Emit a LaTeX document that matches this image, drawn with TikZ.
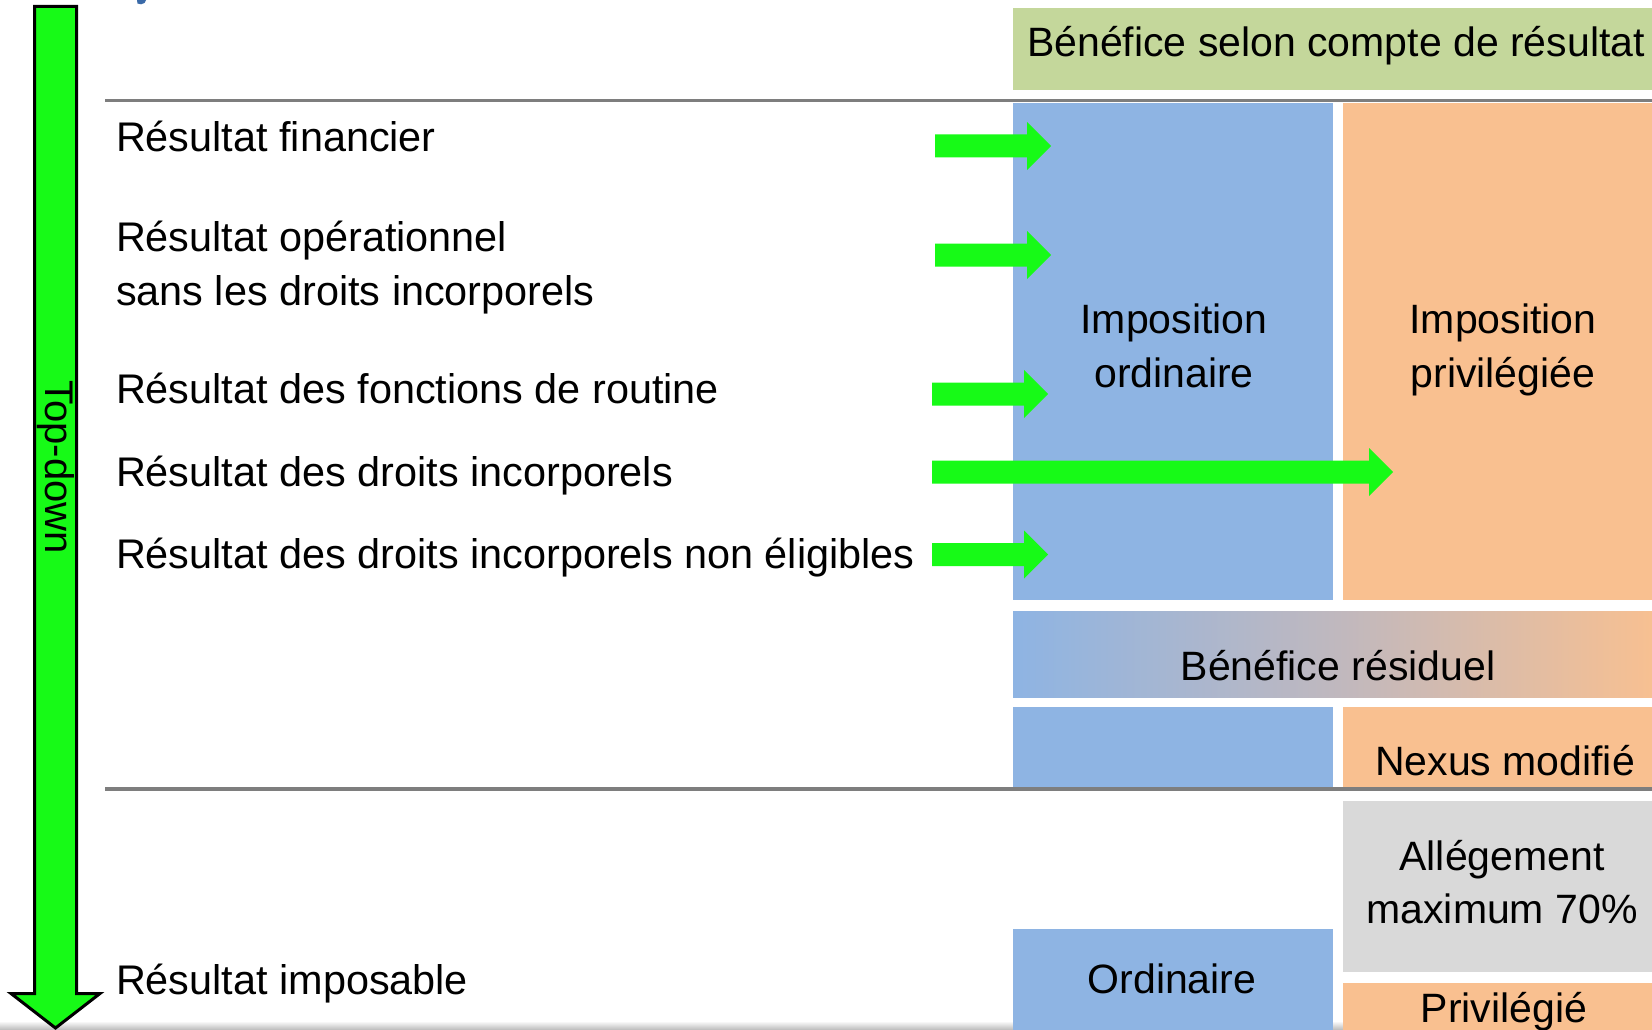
\documentclass[tikz,border=0pt]{standalone}
\usepackage{fontspec}
\setmainfont{Liberation Sans}
\usetikzlibrary{calc}
\definecolor{bleu}{HTML}{8EB4E3}
\definecolor{orangeclair}{HTML}{F9C090}
\definecolor{vertclair}{HTML}{C4D79B}
\definecolor{grisclair}{HTML}{D9D9D9}
\definecolor{vertvif}{HTML}{17FA17}
\definecolor{ligne}{HTML}{7E7E7E}
\definecolor{titre}{HTML}{3A6AA8}
\definecolor{milieu}{RGB}{192,184,190}
\tikzset{
  blk/.style={inner sep=0pt, outer sep=0pt, anchor=north west, draw=none},
  txt/.style={font=\fontsize{41}{50}\selectfont, inner sep=0pt, outer sep=0pt, anchor=base},
  ltxt/.style={txt, font=\fontsize{41.4}{50}\selectfont, anchor=base west},
  flechestyle/.style={fill=vertvif},
  sepline/.style={draw=ligne, line width=3.5pt},
  grandefleche/.style={draw=black, line width=3pt, fill=vertvif, line join=miter},
}
\newcommand\drawflecheH[2]{%
  \fill[flechestyle] let \p1=(#1), \p2=(#2) in
    (\x1,\y1+11.5pt) -- (\x2-24pt,\y1+11.5pt) -- (\x2-24pt,\y1+24pt) -- (\x2,\y1)
    -- (\x2-24pt,\y1-24pt) -- (\x2-24pt,\y1-11.5pt) -- (\x1,\y1-11.5pt) -- cycle;}
\begin{document}
\begin{tikzpicture}[x=1pt,y=-1pt]
\useasboundingbox (0,0) rectangle (1652,1030);
\fill[white] (0,0) rectangle (1652,1030);
% faint bottom edge shadow
\shade[top color=white, bottom color=gray!55] (0,1021) rectangle (1652,1030);
% cut-off title fragment
\fill[titre] (137,0) -- (146,0) -- (144.5,3) -- (141,4.3) -- (137.5,3.5) -- cycle;

% boxes
\node[blk, fill=vertclair, minimum width=650pt, minimum height=82pt] (gtop) at (1013,8) {};
\node[blk, fill=bleu, minimum width=320pt, minimum height=497pt] (colbleu) at (1013,103) {};
\node[blk, fill=orangeclair, minimum width=330pt, minimum height=497pt] (colorange) at (1343,103) {};
\node[blk, left color=bleu, right color=orangeclair, middle color=milieu, minimum width=650pt, minimum height=86pt] (residuel) at (1013,611) {};
\node[blk, fill=bleu, minimum width=320pt, minimum height=81pt] (bleubas) at (1013,707) {};
\node[blk, fill=orangeclair, minimum width=330pt, minimum height=81pt] (nexus) at (1343,707) {};
\node[blk, fill=grisclair, minimum width=330pt, minimum height=171pt] (allegement) at (1343,801) {};
\node[blk, fill=bleu, minimum width=320pt, minimum height=110pt] (ordinaire) at (1013,929) {};
\node[blk, fill=orangeclair, minimum width=330pt, minimum height=60pt] (privilegie) at (1343,983) {};

% separators
\coordinate (s1a) at (105,100.5);
\coordinate (s1b) at (1652,100.5);
\coordinate (s2a) at (105,789);
\coordinate (s2b) at (1652,789);
\draw[sepline] (s1a) -- (s1b);
\draw[sepline] (s2a) -- (s2b);

% big top-down arrow
\draw[grandefleche] (34.5,6.5) -- (76.5,6.5) -- (76.5,993.5) -- (100,993.5) -- (55.5,1028)
  -- (11,993.5) -- (34.5,993.5) -- cycle;
\node[txt, anchor=center, rotate=-90, font=\fontsize{40}{46}\selectfont] (topdown) at (56,467) {Top-down};

% left labels
\node[ltxt] (rfin) at (116,152) {Résultat financier};
\node[ltxt] (rop1) at (116,251) {Résultat opérationnel};
\node[ltxt] (rop2) at (116,305) {sans les droits incorporels};
\node[ltxt] (rrout) at (116,403) {Résultat des fonctions de routine};
\node[ltxt] (rdroit) at (116,486) {Résultat des droits incorporels};
\node[ltxt] (rnon) at (116,568) {Résultat des droits incorporels non éligibles};
\node[ltxt] (rimp) at (116,994) {Résultat imposable};

% box texts
\node[txt] (tgtop) at (1336,57) {Bénéfice selon compte de résultat};
\node[txt] (tio1) at (1174,333) {Imposition};
\node[txt] (tio2) at (1174,387) {ordinaire};
\node[txt] (tip1) at (1503,333) {Imposition};
\node[txt] (tip2) at (1503,387) {privilégiée};
\node[txt] (tres) at (1338,680) {Bénéfice résiduel};
\node[txt] (tnex) at (1505,775) {Nexus modifié};
\node[txt] (tall1) at (1502,870) {Allégement};
\node[txt] (tall2) at (1502,923) {maximum 70\%};
\node[txt] (tord) at (1172,993) {Ordinaire};
\node[txt] (tpriv) at (1504,1022) {Privilégié};

% green arrows
\coordinate (a1s) at (935,146);  \coordinate (a1e) at (1051,146);
\coordinate (a2s) at (935,255);  \coordinate (a2e) at (1051,255);
\coordinate (a3s) at (932,394);  \coordinate (a3e) at (1048,394);
\coordinate (a4s) at (932,472);  \coordinate (a4e) at (1393,472);
\coordinate (a5s) at (932,554.5);\coordinate (a5e) at (1048,554.5);
\drawflecheH{a1s}{a1e}
\drawflecheH{a2s}{a2e}
\drawflecheH{a3s}{a3e}
\drawflecheH{a4s}{a4e}
\drawflecheH{a5s}{a5e}
\end{tikzpicture}
\end{document}
